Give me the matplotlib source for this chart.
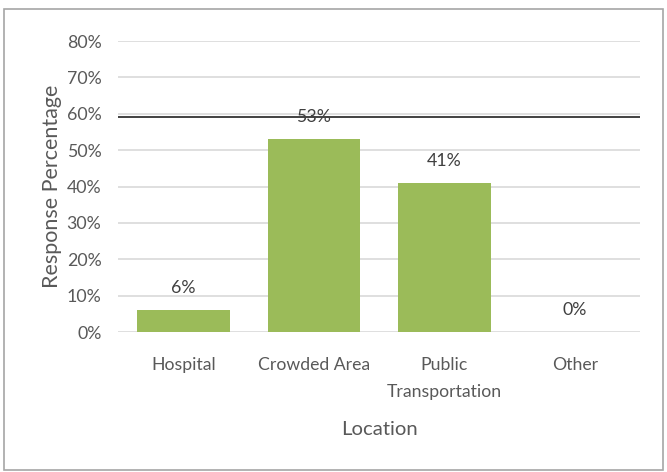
import matplotlib.pyplot as plt
from matplotlib.patches import Rectangle
from matplotlib.ticker import PercentFormatter

categories = ['Hospital', 'Crowded Area', 'Public\nTransportation', 'Other']
responses = [0.06, 0.53, 0.41, 0.00]
labels = ['6%', '53%', '41%', '0%']
reference_level = 0.59
yticks = [0, 0.1, 0.2, 0.3, 0.4, 0.5, 0.6, 0.7, 0.8]

text_color = '#595959'
plt.rcParams['font.family'] = ['Lato', 'DejaVu Sans']

fig = plt.figure(figsize=(6.67, 4.72), dpi=100)
ax = fig.add_axes([0.177, 0.2966, 0.783, 0.6165])

x = list(range(len(categories)))
ax.bar(x, responses, width=0.71, color='#9BBB59', zorder=3)
for xi, v, lab in zip(x, responses, labels):
    ax.text(xi, v + 0.038, lab, ha='center', va='bottom', fontsize=12.8,
            color='#404040', zorder=4)

ax.axhline(reference_level, color='#333333', linewidth=1.3, zorder=3)

ax.set_xlim(-0.5, len(categories) - 0.5)
ax.set_ylim(0, 0.8)
ax.set_yticks(yticks)
ax.yaxis.set_major_formatter(PercentFormatter(1.0, decimals=0))
ax.grid(axis='y', color='#D9D9D9', linewidth=1.2, zorder=0)
ax.set_xticks(x)
ax.set_xticklabels(categories, fontsize=12.7, color=text_color, linespacing=1.85)
ax.tick_params(axis='both', length=0, colors=text_color)
ax.tick_params(axis='y', labelsize=12.8, pad=12)
ax.tick_params(axis='x', pad=18)
for s in ax.spines.values():
    s.set_visible(False)

ax.set_ylabel('Response Percentage', fontsize=15.5, color=text_color, labelpad=3)
ax.set_xlabel('Location', fontsize=14.6, color=text_color, labelpad=15)

fig.patches.append(Rectangle((4 / 667, 2 / 472), 659 / 667, 461 / 472,
                             transform=fig.transFigure, fill=False,
                             edgecolor='#A6A6A6', linewidth=1.2))

fig.savefig('out.png', dpi=100)
plt.close(fig)
